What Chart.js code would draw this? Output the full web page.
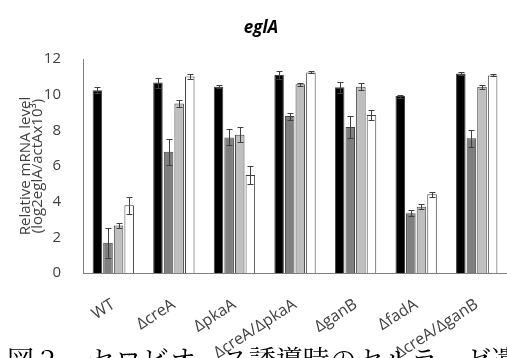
<!DOCTYPE html>
<html>
<head>
<meta charset="utf-8">
<script src="https://cdn.jsdelivr.net/npm/chart.js@4"></script>
<style>
  html, body { margin: 0; padding: 0; background: #fff; overflow: hidden; }
  #wrap { position: relative; width: 507px; height: 358px; }
  #caption {
    position: absolute; left: 7px; top: 345px; white-space: nowrap;
    font-family: "Noto Serif CJK JP", "Noto Sans CJK JP"; font-size: 27px; line-height: 1; color: #000;
  }
</style>
</head>
<body>
<div id="wrap">
  <canvas id="chart" width="507" height="358"></canvas>
  <div id="caption">図２　セロビオース誘導時のセルラーゼ遺伝子</div>
</div>
<script>
const chartTitle = 'eglA';
const yTitle = ['Relative mRNA level', '(log2eglA/actAx10³)'];
const categories = ['WT', 'ΔcreA', 'ΔpkaA', 'ΔcreA/ΔpkaA', 'ΔganB', 'ΔfadA', 'ΔcreA/ΔganB'];

// four bars per strain (black, dark gray, light gray, white)
const blackVals = [10.25, 10.68, 10.45, 11.1, 10.42, 9.92, 11.18];
const blackErr  = [0.17, 0.28, 0.1, 0.22, 0.3, 0.08, 0.1];
const darkVals  = [1.7, 6.8, 7.6, 8.8, 8.18, 3.35, 7.55];
const darkErr   = [0.84, 0.72, 0.45, 0.2, 0.6, 0.18, 0.48];
const lightVals = [2.67, 9.5, 7.75, 10.58, 10.45, 3.72, 10.45];
const lightErr  = [0.12, 0.2, 0.42, 0.08, 0.2, 0.15, 0.12];
const whiteVals = [3.8, 11.02, 5.5, 11.25, 8.86, 4.42, 11.08];
const whiteErr  = [0.47, 0.15, 0.5, 0.06, 0.26, 0.15, 0.06];
const yTicks = [0, 2, 4, 6, 8, 10, 12];

const fontFam = '"Open Sans", Lato, sans-serif';

function makeSet(label, data, errors, color) {
    return {
        label: label,
        data: data,
        errors: errors,
        backgroundColor: color,
        borderColor: '#404040',
        borderWidth: 1,
        categoryPercentage: 0.7,
        barPercentage: 0.9
    };
}

// error bars drawn from the y scale
const errorBars = {
    id: 'errorBars',
    afterDatasetsDraw(chart) {
        const ctx = chart.ctx;
        const y = chart.scales.y;
        chart.data.datasets.forEach((ds, i) => {
            chart.getDatasetMeta(i).data.forEach((bar, j) => {
                const v = ds.data[j], e = ds.errors[j];
                const top = Math.round(y.getPixelForValue(v + e)) + 0.5;
                const bot = Math.round(y.getPixelForValue(v - e)) + 0.5;
                const x = Math.round(bar.x) + 0.5;
                ctx.save();
                ctx.strokeStyle = '#404040';
                ctx.lineWidth = 1;
                ctx.beginPath();
                ctx.moveTo(x, top); ctx.lineTo(x, bot);
                ctx.moveTo(x - 3, top); ctx.lineTo(x + 3, top);
                ctx.moveTo(x - 3, bot); ctx.lineTo(x + 3, bot);
                ctx.stroke();
                ctx.restore();
            });
        });
    }
};

// title sits a little left of the plot centre in the original
const titleText = {
    id: 'titleText',
    afterDraw(chart) {
        const ctx = chart.ctx;
        ctx.save();
        ctx.font = 'italic bold 17px ' + fontFam;
        ctx.fillStyle = '#000';
        ctx.textAlign = 'center';
        ctx.textBaseline = 'middle';
        ctx.fillText(chartTitle, 261, 28);
        ctx.restore();
    }
};

new Chart(document.getElementById('chart'), {
    type: 'bar',
    data: {
        labels: categories,
        datasets: [
            makeSet('A', blackVals, blackErr, '#000000'),
            makeSet('B', darkVals, darkErr, '#7f7f7f'),
            makeSet('C', lightVals, lightErr, '#bfbfbf'),
            makeSet('D', whiteVals, whiteErr, '#ffffff')
        ]
    },
    options: {
        responsive: false,
        animation: false,
        layout: { padding: { top: 59, right: -8, bottom: 0, left: 0 } },
        plugins: {
            legend: { display: false },
            title: { display: false },
            tooltip: { enabled: false }
        },
        scales: {
            x: {
                grid: { display: false },
                border: { display: true, color: '#7f7f7f', width: 1 },
                ticks: {
                    minRotation: 33, maxRotation: 33, padding: 14,
                    color: '#404040',
                    font: { family: fontFam, size: 16 }
                },
                afterFit: (s) => { s.height = 85; }
            },
            y: {
                min: 0, max: 12,
                grid: { display: false },
                border: { display: true, color: '#7f7f7f', width: 1 },
                afterBuildTicks: (s) => { s.ticks = yTicks.map(v => ({ value: v })); },
                ticks: {
                    padding: 14,
                    color: '#404040',
                    font: { family: fontFam, size: 15 }
                },
                title: {
                    display: true,
                    text: yTitle,
                    color: '#404040',
                    padding: { top: 20, bottom: 0 },
                    font: { family: fontFam, size: 15, lineHeight: 0.8 }
                },
                afterFit: (s) => { s.width = 83; }
            }
        }
    },
    plugins: [errorBars, titleText]
});
</script>
</body>
</html>
